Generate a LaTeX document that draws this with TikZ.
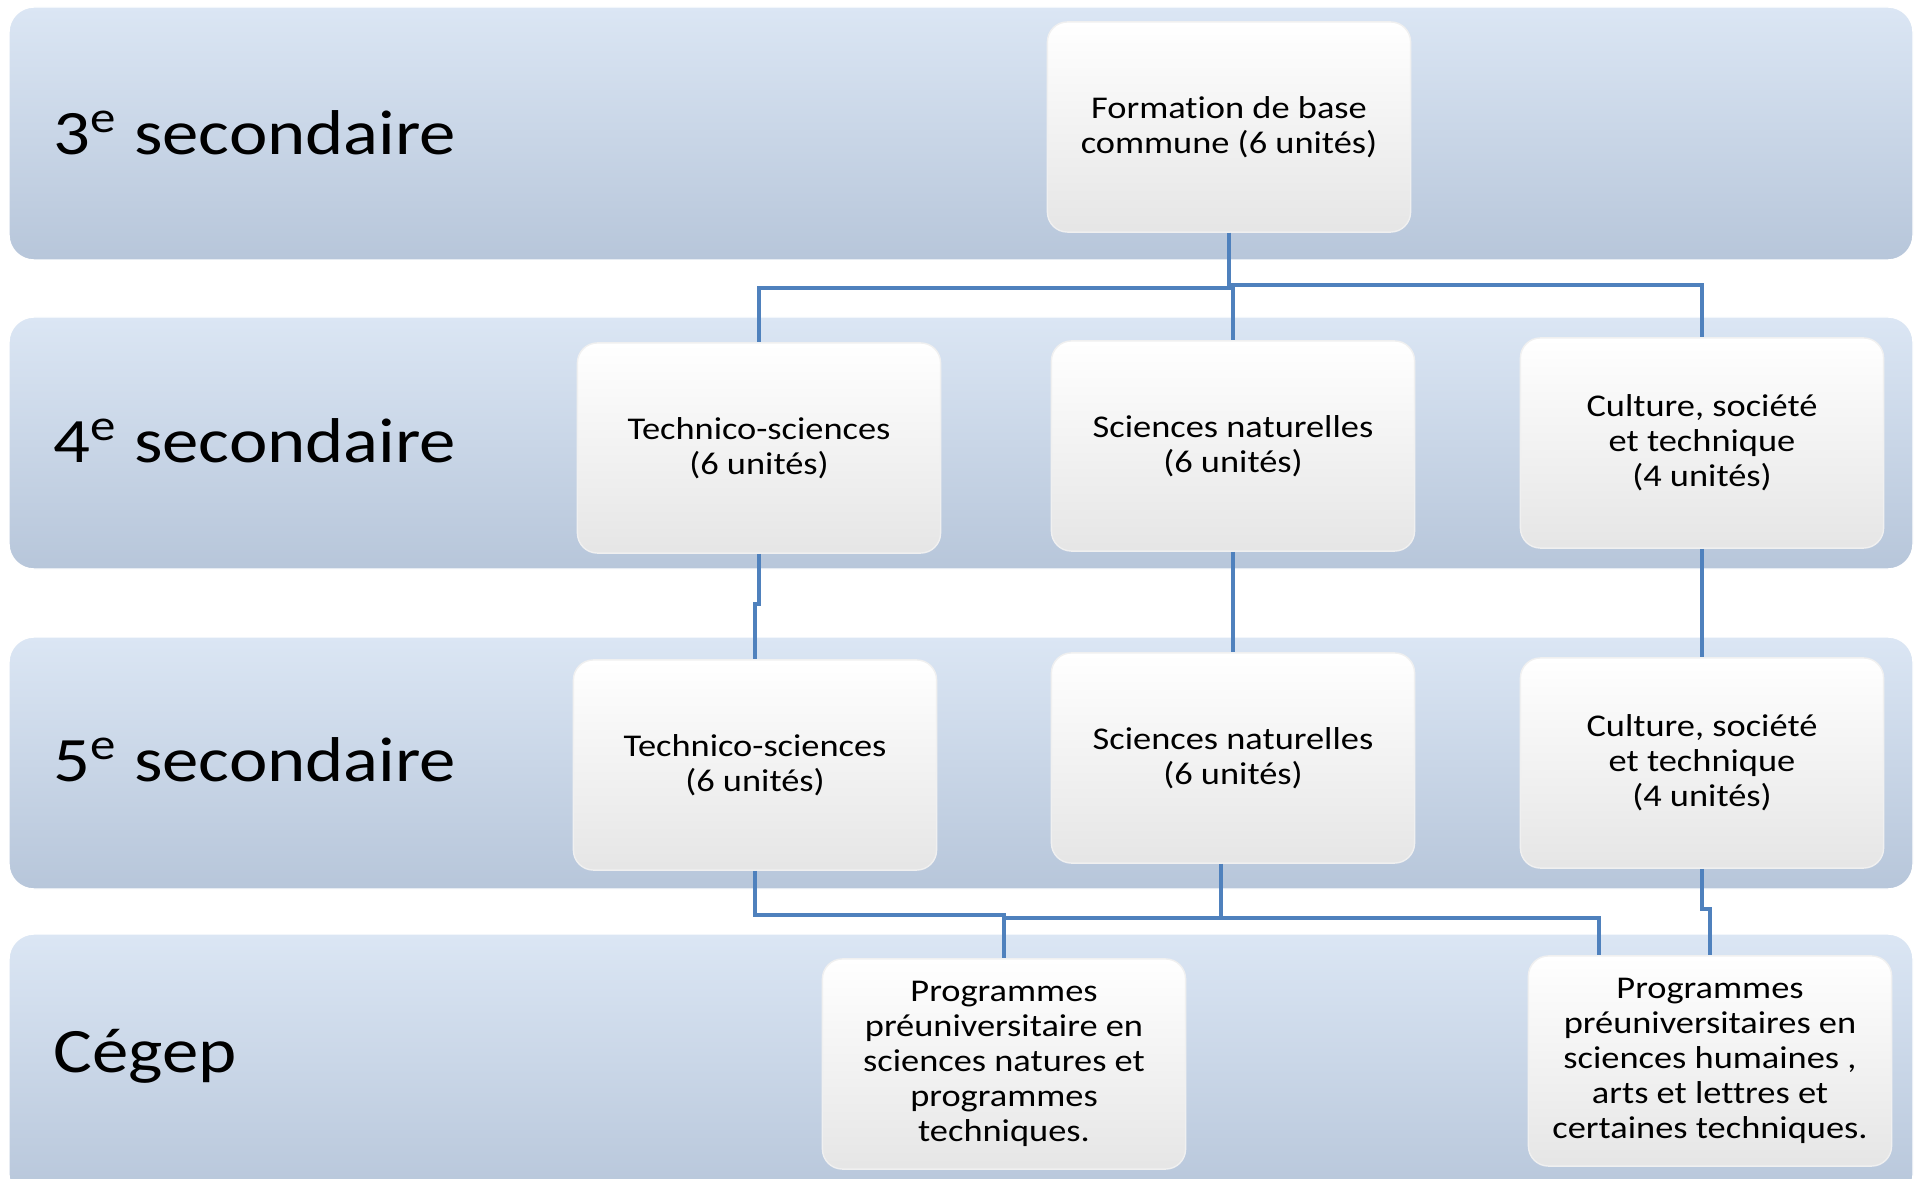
\documentclass[tikz,border=0pt]{standalone}
\usepackage{fontspec}
\setmainfont{Carlito}[FakeStretch=1.15, Ligatures=NoCommon]
\usepackage{tikz}

\definecolor{bandtop}{RGB}{219,230,244}
\definecolor{bandbot}{RGB}{183,198,218}
\definecolor{lienbleu}{RGB}{79,129,189}

\tikzset{
  niveau/.style={anchor=west, inner sep=0pt, font=\fontsize{18}{22}\selectfont},
  choix/.style={rectangle, rounded corners=0.2cm, draw=black!6, top color=white, bottom color=black!10,
    minimum width=3.63cm, minimum height=2.1cm, align=center, font=\fontsize{9}{9.9}\selectfont},
  lien/.style={draw=lienbleu, line width=1.1pt}
}

\begin{document}
\begin{tikzpicture}[x=0.01cm, y=-0.01cm]
			\useasboundingbox (0,0) rectangle (1914,1179);
			% bandes
			\foreach \ytop/\ybot in {7/260, 317/569, 637/889, 934/1200}
				\shade[top color=bandtop, bottom color=bandbot, draw=white, rounded corners=0.25cm] (9,\ytop) rectangle (1913,\ybot);
			\node[niveau] (N3)at(53, 133) {3\textsuperscript{e} secondaire};
			\node[niveau] (N4)at(53, 441) {4\textsuperscript{e} secondaire};
			\node[niveau] (N5)at(53, 760) {5\textsuperscript{e} secondaire};
			\node[niveau] (CEG)at(53, 1056) {Cégep};
			% cours
			\node[choix] (FBC)at(1229, 127) {Formation de base\\commune (6 unités)};
			\node[choix] (TS4)at(759, 448) {Technico-sciences\\(6 unités)};
			\node[choix] (SN4)at(1233, 446) {Sciences naturelles\\(6 unités)};
			\node[choix] (CST4)at(1702, 443) {Culture, société\\et technique\\(4 unités)};
			\node[choix] (TS5)at(755, 765) {Technico-sciences\\(6 unités)};
			\node[choix] (SN5)at(1233, 758) {Sciences naturelles\\(6 unités)};
			\node[choix] (CST5)at(1702, 763) {Culture, société\\et technique\\(4 unités)};
			\node[choix] (PSN)at(1004, 1064) {Programmes\\préuniversitaire en\\sciences natures et\\programmes\\techniques.};
			\node[choix] (PSH)at(1710, 1061) {Programmes\\préuniversitaires en\\sciences humaines ,\\arts et lettres et\\certaines techniques.};
			% liens
			\draw[lien] (FBC.south) -- ++(0,55) -| (TS4.north);
			\draw[lien] (FBC.south) -- ++(0,55) -| (SN4.north);
			\draw[lien] (FBC.south) -- ++(0,52) -| (CST4.north);
			\draw[lien] (TS4.south) -- ++(0,50) -| (TS5.north);
			\draw[lien] (SN4.south) -- ++(0,50) -| (SN5.north);
			\draw[lien] (CST4.south) -- ++(0,50) -| (CST5.north);
			\draw[lien] (TS5.south) -- ++(0,44) -| (PSN.north);
			\draw[lien] ([xshift=-0.12cm]SN5.south) -- ++(0,54) -| (PSN.north);
			\draw[lien] ([xshift=-0.12cm]SN5.south) -- ++(0,54) -| ([xshift=-1.11cm]PSH.north);
			\draw[lien] (CST5.south) -- ++(0,40) -| (PSH.north);
		\end{tikzpicture}
\end{document}
